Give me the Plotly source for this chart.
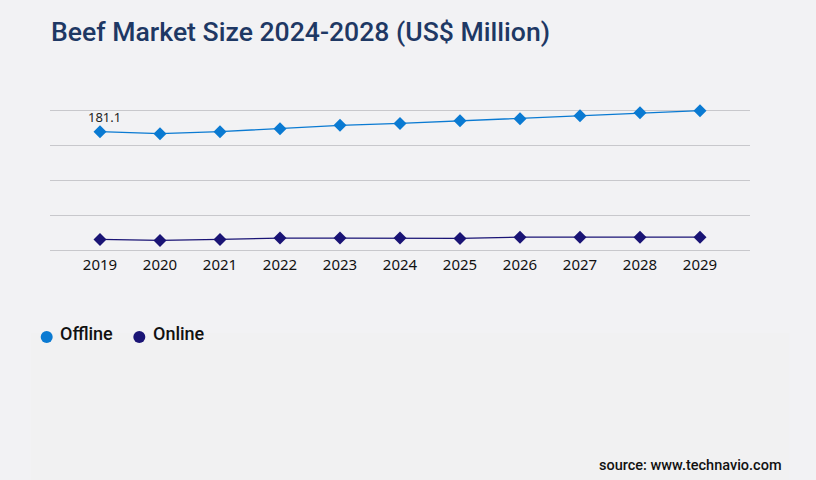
import plotly.graph_objects as go

# data (US$ million)
years = [2019, 2020, 2021, 2022, 2023, 2024, 2025, 2026, 2027, 2028, 2029]
offline = [181.1, 178.1, 181.1, 185.7, 190.7, 193.7, 197.8, 200.9, 205.4, 210.0, 213.1]
online = [16.7, 15.2, 16.7, 18.7, 18.7, 18.7, 18.3, 20.2, 20.2, 20.2, 20.2]
series_names = ["Offline", "Online"]
series_colors = ["#0a7ad2", "#1a1475"]
first_label = "181.1"

BG = "#f2f2f4"

fig = go.Figure()
for name, vals, col in zip(series_names, [offline, online], series_colors):
    fig.add_trace(go.Scatter(
        x=years, y=vals, name=name, mode="lines+markers",
        line=dict(color=col, width=1.3),
        marker=dict(symbol="diamond", size=10, color=col),
        cliponaxis=False, showlegend=False,
    ))

fig.add_annotation(x=years[0], y=offline[0], text=first_label, showarrow=False,
                   yshift=15, xshift=5, font=dict(size=13, color="#222", family="Noto Sans"))

# faint lower panel behind the legend / source line
fig.add_shape(type="rect", xref="paper", yref="paper", layer="below",
              x0=-0.027, x1=1.056, y0=-0.552, y1=-1.6,
              fillcolor="#f1f1f2", line=dict(width=0))

# hand-built legend: circle + label per series
leg_x = [-0.0047, 0.1276]   # circle centres (paper)
rx, ry = 6 / 700, 6 / 145.2
for name, col, cx in zip(series_names, series_colors, leg_x):
    fig.add_shape(type="circle", xref="paper", yref="paper",
                  x0=cx - rx, x1=cx + rx, y0=-0.579 - ry, y1=-0.579 + ry,
                  fillcolor=col, line=dict(width=0))
    fig.add_annotation(text=name, xref="paper", yref="paper", x=cx + 0.0166, y=-0.558,
                       xanchor="left", yanchor="middle", showarrow=False,
                       font=dict(family="Roboto", size=18, color="#111", weight=500))

fig.add_annotation(text="source: www.technavio.com", xref="paper", yref="paper",
                   x=1.0486, y=-1.465, xanchor="right", yanchor="middle", showarrow=False,
                   font=dict(family="Roboto", size=14.5, color="#111", weight=500))

fig.update_layout(
    width=816, height=480,
    paper_bgcolor=BG, plot_bgcolor=BG,
    margin=dict(l=50, r=66, t=108, b=227),
    showlegend=False,
    title=dict(text="Beef Market Size 2024-2028 (US$ Million)",
               x=0.0625, xanchor="left", y=0.935, yanchor="middle",
               font=dict(family="Roboto", size=26.6, color="#1e3864", weight=500)),
    xaxis=dict(range=[2018.167, 2029.833], tickvals=years, showgrid=False,
               zeroline=False, showline=False, ticklabelstandoff=1,
               tickfont=dict(family="Noto Sans", size=15, color="#111")),
    yaxis=dict(range=[-4, 217.2], tickvals=[0, 53.3, 106.6, 159.9, 213.2],
               showticklabels=False, gridcolor="#c8c8cc", gridwidth=1,
               zeroline=False),
)

fig.write_html("out.html", config={"displayModeBar": False},
               post_script="document.body.style.margin='0';")
